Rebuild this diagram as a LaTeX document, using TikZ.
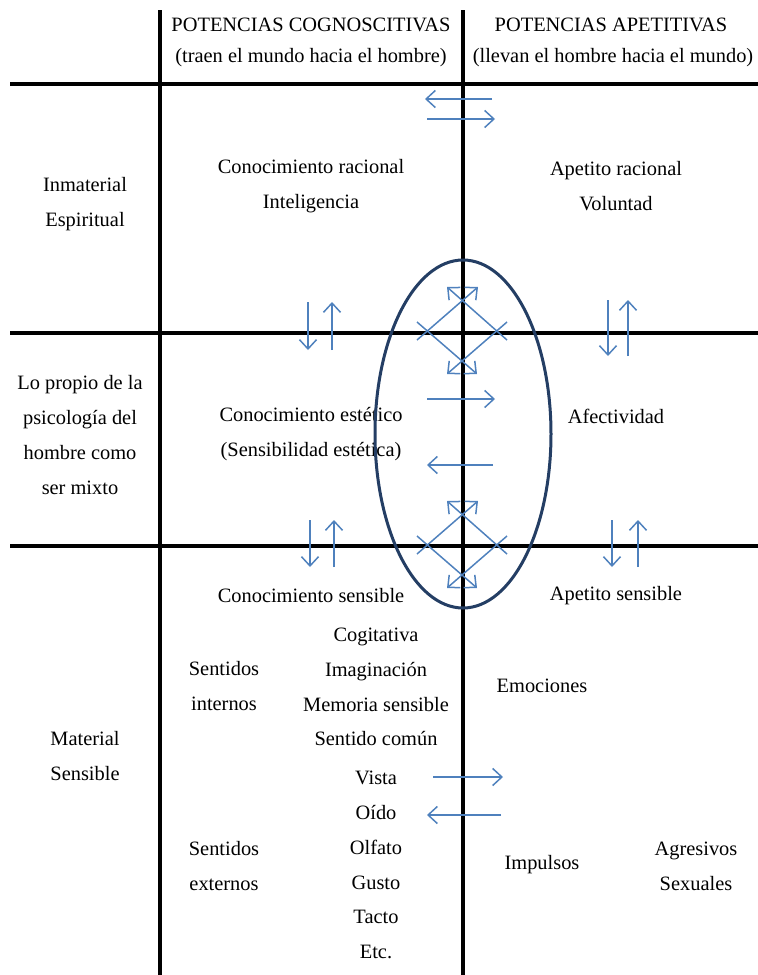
\documentclass[tikz,border=0pt]{standalone}
\usepackage{fontspec}
\setmainfont{Liberation Serif}
\usetikzlibrary{arrows.meta}
\definecolor{azulflecha}{RGB}{79,129,189}
\definecolor{azulelipse}{RGB}{36,62,100}

\begin{document}
\begin{tikzpicture}[x=0.5pt, y=-0.5pt,
  every node/.style={font=\fontsize{10.2}{17.4}\selectfont, align=center, inner sep=0pt},
  raya/.style={line width=2pt},
  flecha/.style={draw=azulflecha, line width=0.75pt, -{Straight Barb[length=4.6pt,width=8.5pt]}}]
\useasboundingbox (0,0) rectangle (758,975);

% cuadricula
\foreach \yh in {84,333,546}
  \draw[raya] (10,\yh) -- (758,\yh);
\foreach \xv in {160,463}
  \draw[raya] (\xv,10) -- (\xv,975);

% encabezados
\node (cogn) at (311,25) {POTENCIAS COGNOSCITIVAS};
\node (cognsub) at (311,58) {(traen el mundo hacia el hombre)};
\node (apet) at (611,25) {POTENCIAS APETITIVAS};
\node (apetsub) at (613,58) {(llevan el hombre hacia el mundo)};

% niveles
\node (inmat) at (85,204) {Inmaterial\\Espiritual};
\node (mixto) at (80,435) {Lo propio de la\\psicología del\\hombre como\\ser mixto};
\node (mat) at (85,756) {Material\\Sensible};

\node (racional) at (311,186) {Conocimiento racional\\Inteligencia};
\node (voluntad) at (616,186) {Apetito racional\\Voluntad};
\node (estetico) at (311,434) {Conocimiento estético\\(Sensibilidad estética)};
\node (afect) at (616,416) {Afectividad};
\node (sensible) at (311,596) {Conocimiento sensible};
\node (apsens) at (616,596) {Apetito sensible};

\node (internos) at (224,686) {Sentidos\\internos};
\node (facultades) at (376,687) {Cogitativa\\Imaginación\\Memoria sensible\\Sentido común};
\node (emociones) at (542,686) {Emociones};
\node (externos) at (224,866) {Sentidos\\externos};
\node (sentidos) at (376,865) {Vista\\Oído\\Olfato\\Gusto\\Tacto\\Etc.};
\node (impulsos) at (542,865) {Impulsos};
\node (tendencias) at (696,866) {Agresivos\\Sexuales};

% elipse central
\draw[azulelipse, line width=1.5pt] (463,434) ellipse [x radius=88, y radius=174];

% flechas
\draw[flecha] (492,99) -- (425,99);
\draw[flecha] (427,119) -- (495,119);
\draw[flecha] (427,399) -- (495,399);
\draw[flecha] (493,465) -- (427,465);
\draw[flecha] (433,777) -- (503,777);
\draw[flecha] (501,815) -- (427,815);

\foreach \xa/\xb/\ya/\yb in {308/332/302/350, 608/628/300/356, 310/334/520/567, 612/638/520/567}{
  \draw[flecha] (\xa,\ya) -- (\xa,\yb);
  \draw[flecha] (\xb,\yb) -- (\xb,\ya);
}

\foreach \cy in {332,546}{
  \begin{scope}[shift={(463,\cy)}]
    \draw[flecha] (-46,8) -- (15,-45);
    \draw[flecha] (44,8) -- (-16,-45);
    \draw[flecha] (-46,-10) -- (14,42);
    \draw[flecha] (44,-10) -- (-16,42);
  \end{scope}
}
\end{tikzpicture}
\end{document}
